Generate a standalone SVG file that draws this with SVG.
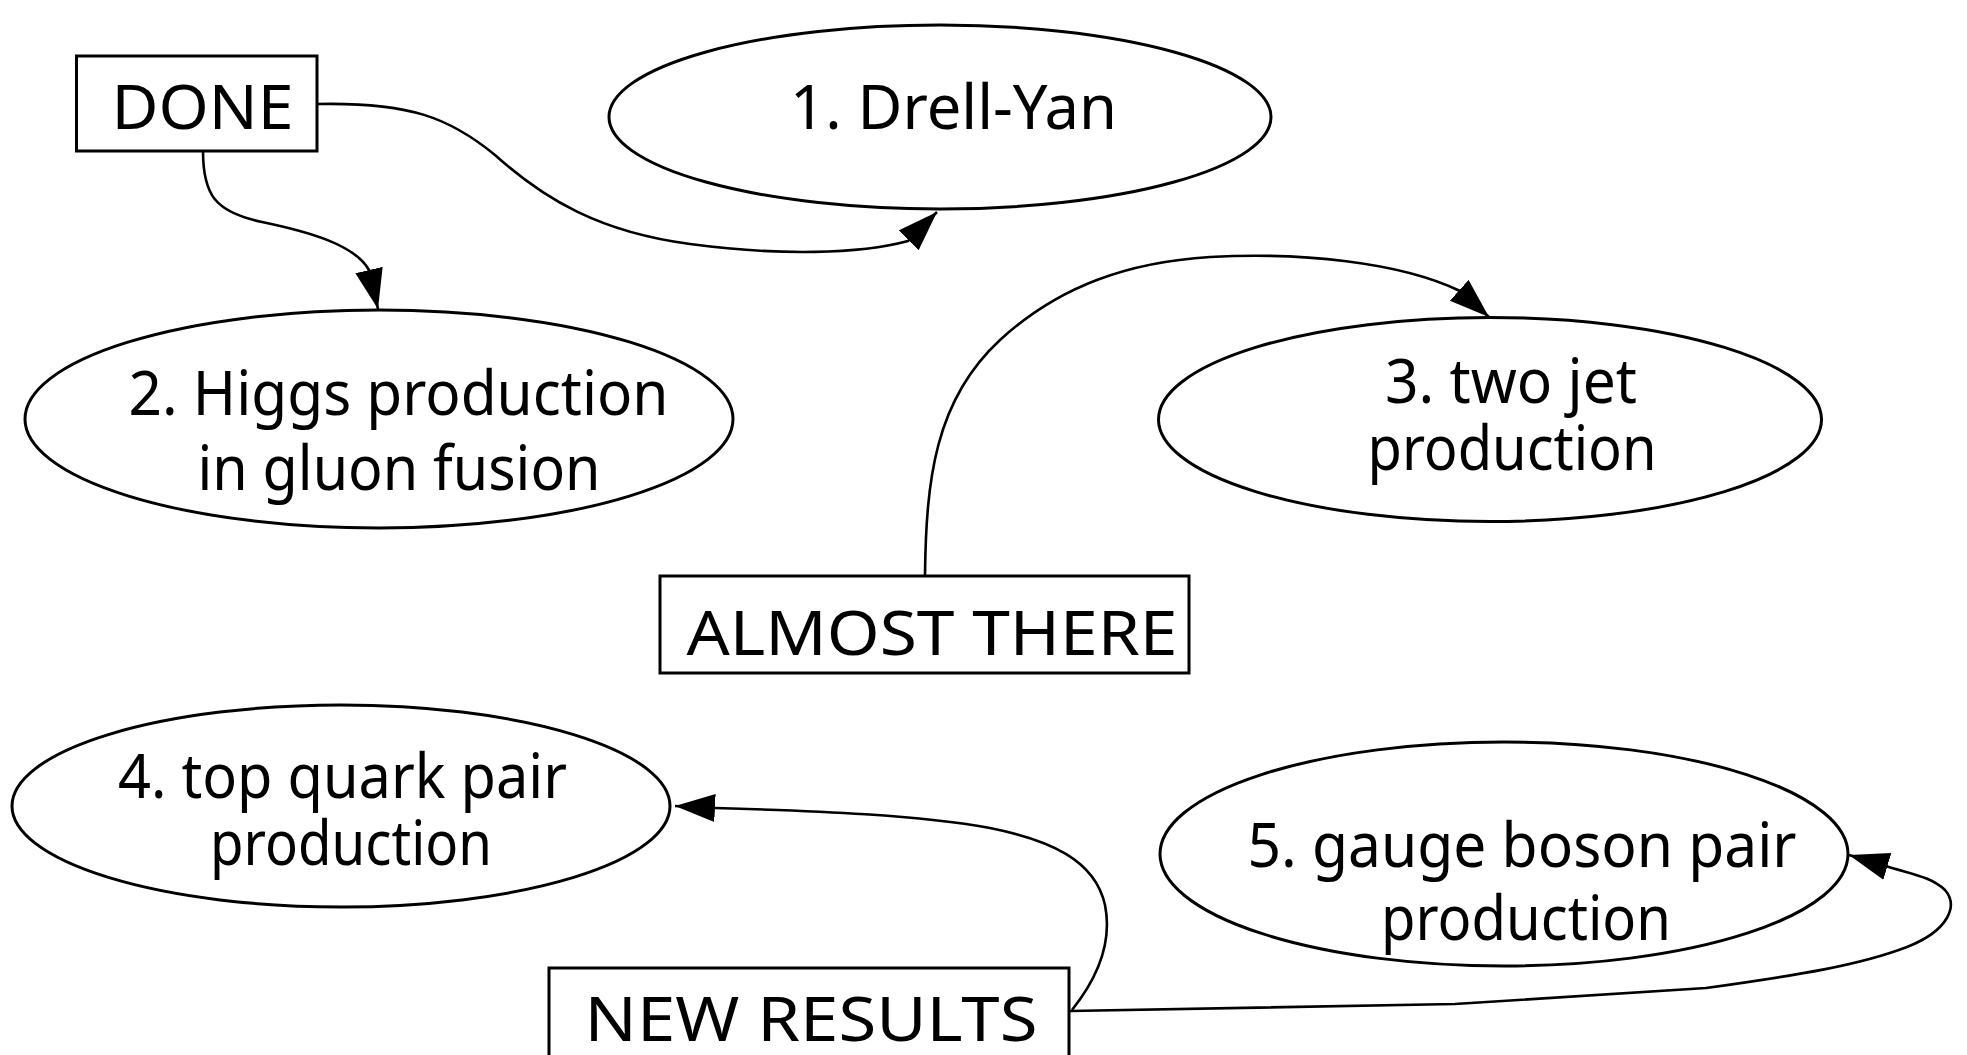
<svg xmlns="http://www.w3.org/2000/svg" width="1967" height="1055" viewBox="0 0 1967 1055">
<style>
.node{fill:#fff;stroke:#000;stroke-width:3}
.lbl{font-family:"Noto Sans","DejaVu Sans",sans-serif;font-size:62px;fill:#000;text-anchor:middle}
.edge{fill:none;stroke:#000;stroke-width:2.6}
</style>
<defs>
<marker id="arr" markerUnits="userSpaceOnUse" markerWidth="42" markerHeight="30" refX="40" refY="14" orient="auto" viewBox="0 0 42 30">
<path d="M0,0 L40,14 L0,28 z" fill="#000"/>
</marker>
</defs>
<rect width="1967" height="1055" fill="#fff"/>
<g id="edges">
<path class="edge" marker-end="url(#arr)" d="M317,104 C410,102 450,118 495,155 C545,200 600,232 690,244 C780,256 860,254 908,241 L937,212"/>
<path class="edge" marker-end="url(#arr)" d="M203,151 C203,195 215,212 262,222 C310,232 355,245 369,270 L378,309"/>
<path class="edge" marker-end="url(#arr)" d="M925,576 C926,480 935,400 1000,340 C1060,285 1130,262 1210,257 C1300,252 1400,262 1460,291 L1489,317"/>
<path class="edge" marker-end="url(#arr)" d="M1072,1010 C1100,975 1112,940 1105,905 C1095,860 1050,840 990,828 C920,815 820,811 715,808 L675,806"/>
<path class="edge" marker-end="url(#arr)" d="M1070,1011 L1455,1004 L1706,988 C1800,975 1860,965 1907,947 C1950,930 1958,905 1945,890 C1930,876 1910,874 1886,866 L1849,855"/>
</g>
<g id="done">
<rect class="node" x="76.5" y="56" width="240.5" height="95"/>
<text class="lbl" x="202.5" y="129" textLength="182" lengthAdjust="spacingAndGlyphs">DONE</text>
</g>
<g id="drellyan">
<ellipse class="node" cx="940" cy="117" rx="331" ry="92"/>
<text class="lbl" x="953.5" y="129" textLength="327" lengthAdjust="spacingAndGlyphs">1. Drell-Yan</text>
</g>
<g id="higgs">
<ellipse class="node" cx="379" cy="419" rx="354" ry="109"/>
<text class="lbl" x="398.5" y="415" textLength="540" lengthAdjust="spacingAndGlyphs">2. Higgs production</text>
<text class="lbl" x="399" y="490" textLength="403" lengthAdjust="spacingAndGlyphs">in gluon fusion</text>
</g>
<g id="twojet">
<ellipse class="node" cx="1490" cy="419.5" rx="331.5" ry="102"/>
<text class="lbl" x="1511" y="403" textLength="252" lengthAdjust="spacingAndGlyphs">3. two jet</text>
<text class="lbl" x="1512" y="470" textLength="289" lengthAdjust="spacingAndGlyphs">production</text>
</g>
<g id="almost">
<rect class="node" x="660" y="576" width="529" height="97"/>
<text class="lbl" x="932" y="655" textLength="491" lengthAdjust="spacingAndGlyphs">ALMOST THERE</text>
</g>
<g id="topquark">
<ellipse class="node" cx="341" cy="806" rx="329" ry="101"/>
<text class="lbl" x="342.5" y="798" textLength="449" lengthAdjust="spacingAndGlyphs">4. top quark pair</text>
<text class="lbl" x="351" y="865" textLength="282" lengthAdjust="spacingAndGlyphs">production</text>
</g>
<g id="gauge">
<ellipse class="node" cx="1504" cy="854" rx="344" ry="112"/>
<text class="lbl" x="1522" y="867" textLength="549" lengthAdjust="spacingAndGlyphs">5. gauge boson pair</text>
<text class="lbl" x="1526" y="940" textLength="290" lengthAdjust="spacingAndGlyphs">production</text>
</g>
<g id="newresults">
<rect class="node" x="549" y="968" width="520" height="97"/>
<text class="lbl" x="811" y="1041" textLength="453" lengthAdjust="spacingAndGlyphs">NEW RESULTS</text>
</g>
</svg>
